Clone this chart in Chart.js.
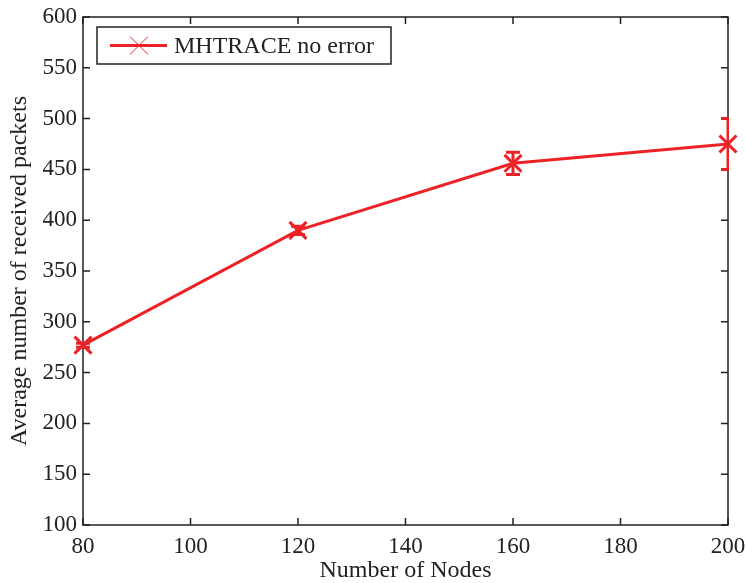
<!DOCTYPE html>
<html>
<head>
<meta charset="utf-8">
<script src="https://cdn.jsdelivr.net/npm/chart.js@4/dist/chart.umd.min.js"></script>
<style>
  html, body { margin: 0; padding: 0; background: #fff; }
  #wrap { width: 746px; height: 583px; }
</style>
</head>
<body>
<div id="wrap"><canvas id="grafico"></canvas></div>
<script>
// dados
const nodes = [80, 120, 160, 200];
const received = [277, 390, 456, 475];
const errors = [2, 4, 11, 25];
const xTicks = [80, 100, 120, 140, 160, 180, 200];
const yTicks = [100, 150, 200, 250, 300, 350, 400, 450, 500, 550, 600];
const seriesName = 'MHTRACE no error';

const red = '#ed2226';
const serif = '"Liberation Serif", "Times New Roman", serif';

// moldura e ticks para dentro (estilo matlab)
const boxTicks = {
  id: 'boxTicks',
  beforeDatasetsDraw(chart) {
    const { ctx, chartArea: a, scales } = chart;
    ctx.save();
    ctx.strokeStyle = '#222';
    ctx.lineWidth = 1.5;
    ctx.strokeRect(a.left, a.top, a.right - a.left, a.bottom - a.top);
    const len = 7;
    ctx.beginPath();
    xTicks.forEach(v => {
      const px = scales.x.getPixelForValue(v);
      ctx.moveTo(px, a.bottom); ctx.lineTo(px, a.bottom - len);
      ctx.moveTo(px, a.top); ctx.lineTo(px, a.top + len);
    });
    yTicks.forEach(v => {
      const py = scales.y.getPixelForValue(v);
      ctx.moveTo(a.left, py); ctx.lineTo(a.left + len, py);
      ctx.moveTo(a.right, py); ctx.lineTo(a.right - len, py);
    });
    ctx.stroke();
    ctx.restore();
  }
};

// barras de erro
const errorBars = {
  id: 'errorBars',
  afterDatasetsDraw(chart) {
    const { ctx, chartArea: a, scales } = chart;
    ctx.save();
    ctx.beginPath();
    ctx.rect(a.left - 10, a.top, a.right - a.left + 11, a.bottom - a.top);
    ctx.clip();
    ctx.strokeStyle = red;
    ctx.lineWidth = 3;
    const cap = 7;
    nodes.forEach((n, i) => {
      const px = scales.x.getPixelForValue(n);
      const top = scales.y.getPixelForValue(received[i] + errors[i]);
      const bot = scales.y.getPixelForValue(received[i] - errors[i]);
      ctx.beginPath();
      ctx.moveTo(px, top); ctx.lineTo(px, bot);
      ctx.moveTo(px - cap, top); ctx.lineTo(px + cap, top);
      ctx.moveTo(px - cap, bot); ctx.lineTo(px + cap, bot);
      ctx.stroke();
    });
    ctx.restore();
  }
};

// legenda desenhada a mao (linha + marcador)
const boxLegend = {
  id: 'boxLegend',
  afterDraw(chart) {
    const { ctx, chartArea: a } = chart;
    const x = a.left + 14, y = a.top + 10, w = 294, h = 37;
    ctx.save();
    ctx.fillStyle = '#fff';
    ctx.fillRect(x, y, w, h);
    ctx.strokeStyle = '#222';
    ctx.lineWidth = 1.5;
    ctx.strokeRect(x, y, w, h);
    const cy = y + h / 2;
    ctx.strokeStyle = red;
    ctx.lineWidth = 3;
    ctx.beginPath();
    ctx.moveTo(x + 13, cy); ctx.lineTo(x + 70, cy);
    ctx.stroke();
    ctx.lineWidth = 1;
    const mx = x + 42, r = 9;
    ctx.beginPath();
    ctx.moveTo(mx - r, cy - r); ctx.lineTo(mx + r, cy + r);
    ctx.moveTo(mx - r, cy + r); ctx.lineTo(mx + r, cy - r);
    ctx.stroke();
    ctx.fillStyle = '#222';
    ctx.font = '24px ' + serif;
    ctx.textBaseline = 'middle';
    ctx.fillText(seriesName, x + 77, cy + 1);
    ctx.restore();
  }
};

const ctx = document.getElementById('grafico');

new Chart(ctx, {
  type: 'line',
  data: {
    datasets: [{
      label: seriesName,
      data: nodes.map((n, i) => ({ x: n, y: received[i] })),
      borderColor: red,
      backgroundColor: red,
      borderWidth: 3,
      pointStyle: 'crossRot',
      pointRadius: 12,
      pointBorderWidth: 3,
      pointHoverRadius: 12,
      clip: false,
      tension: 0
    }]
  },
  options: {
    responsive: true,
    maintainAspectRatio: false,
    animation: false,
    layout: { padding: { left: 8, right: 18, top: 17, bottom: 0 } },
    plugins: {
      legend: { display: false },
      tooltip: { enabled: false }
    },
    scales: {
      x: {
        type: 'linear',
        min: 80,
        max: 200,
        afterBuildTicks: s => { s.ticks = xTicks.map(v => ({ value: v })); },
        afterFit: s => { s.height = 58; s.paddingLeft = 0; s.paddingRight = 0; },
        ticks: { color: '#222', font: { family: serif, size: 23 }, padding: 8, maxRotation: 0 },
        grid: { display: false, drawTicks: false },
        border: { display: false },
        title: {
          display: true,
          text: 'Number of Nodes',
          color: '#222',
          font: { family: serif, size: 24, lineHeight: 1.0 },
          padding: { top: 0, bottom: 0 }
        }
      },
      y: {
        min: 100,
        max: 600,
        afterBuildTicks: s => { s.ticks = yTicks.map(v => ({ value: v })); },
        afterFit: s => { s.width = 75; s.paddingTop = 0; s.paddingBottom = 0; },
        ticks: { color: '#222', font: { family: serif, size: 23 }, padding: 6 },
        grid: { display: false, drawTicks: false },
        border: { display: false },
        title: {
          display: true,
          text: 'Average number of received packets',
          color: '#222',
          font: { family: serif, size: 24, lineHeight: 1.0 },
          padding: { top: 0, bottom: 0 }
        }
      }
    }
  },
  plugins: [errorBars, boxTicks, boxLegend]
});
</script>
</body>
</html>
